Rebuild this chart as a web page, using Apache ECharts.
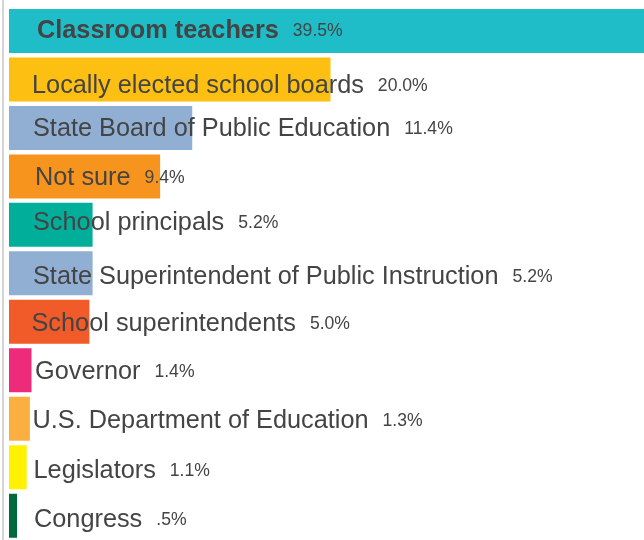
<!DOCTYPE html>
<html>
<head>
<meta charset="utf-8">
<script src="https://cdn.jsdelivr.net/npm/echarts@6/dist/echarts.min.js"></script>
<style>
  html, body { margin: 0; padding: 0; background: #fff; }
  #chart { width: 644px; height: 540px; }
</style>
</head>
<body>
<div id="chart"></div>
<script>
const categories = [
  'Classroom teachers',
  'Locally elected school boards',
  'State Board of Public Education',
  'Not sure',
  'School principals',
  'State Superintendent of Public Instruction',
  'School superintendents',
  'Governor',
  'U.S. Department of Education',
  'Legislators',
  'Congress'
];
const values = [39.5, 20.0, 11.4, 9.4, 5.2, 5.2, 5.0, 1.4, 1.3, 1.1, 0.5];

const barColors = [
  '#1fbdc7', '#fdbf12', '#91afd2', '#f7941e', '#00ae9a', '#91afd2',
  '#f15a29', '#ee2a7b', '#fbaf41', '#fff200', '#00693c'
];

// small per-row label nudges [dx, dy] - the source labels are not perfectly aligned
const labelNudge = [
  [3, 0.5], [-2, 6.5], [-1, 1.5], [1, 1.3], [-1, -1.5], [-1, 3.5],
  [-2.5, 2], [1, 2], [-1.5, 2.5], [-0.5, 3.5], [0, 4.5]
];

const font = 'Liberation Sans, Arial, sans-serif';

// format like the source: one decimal, no leading zero below 1
function pct(v) {
  let s = v.toFixed(1);
  if (v < 1) s = s.slice(1);
  return s + '%';
}

const chart = echarts.init(document.getElementById('chart'), null, { renderer: 'canvas' });

const option = {
  animation: false,
  graphic: [{
    type: 'rect',
    shape: { x: 2, y: 0, width: 2, height: 540 },
    style: { fill: '#d4d4d4' }
  }],
  grid: { left: 9, right: 0, top: 6.7, height: 534.6, containLabel: false },
  xAxis: { type: 'value', min: 0, max: 39.5, show: false },
  yAxis: { type: 'category', data: categories, inverse: true, show: false },
  series: [{
    type: 'bar',
    barWidth: 44,
    data: values.map((v, i) => ({
      value: v,
      itemStyle: { color: barColors[i] },
      label: { position: [25 + labelNudge[i][0], 22 + labelNudge[i][1]] }
    })),
    label: {
      show: true,
      verticalAlign: 'middle',
      formatter: (p) => (p.dataIndex === 0 ? '{b|' : '{n|') + p.name + '}{v|' + pct(p.value) + '}',
      rich: {
        n: { fontFamily: font, fontSize: 25.3, color: '#444' },
        b: { fontFamily: font, fontSize: 25.3, fontWeight: 'bold', color: '#444' },
        v: { fontFamily: font, fontSize: 17.6, color: '#444', padding: [0, 0, 0, 14] }
      }
    }
  }]
};

chart.setOption(option);
</script>
</body>
</html>
